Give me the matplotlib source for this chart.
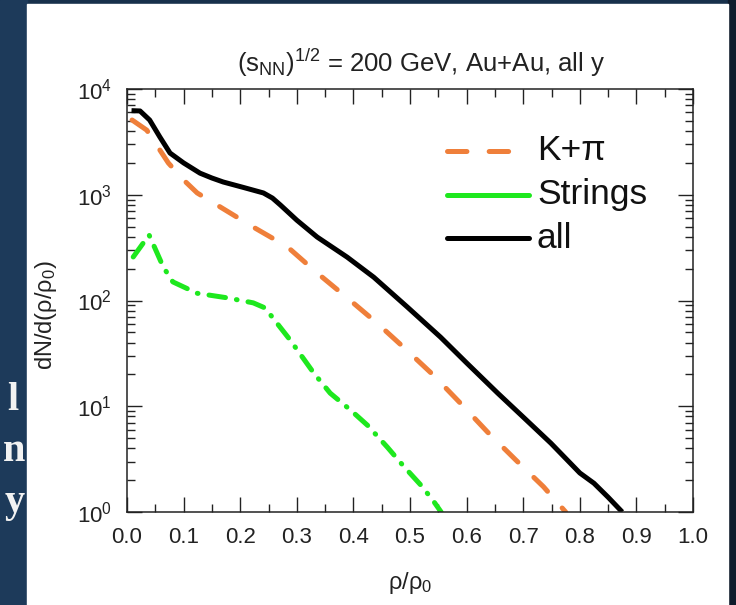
import numpy as np
import matplotlib
matplotlib.use("Agg")
import matplotlib.pyplot as plt
from matplotlib.patches import Rectangle
from matplotlib.ticker import LogLocator, MultipleLocator, NullFormatter

plt.rcParams['font.family'] = ['Liberation Sans', 'DejaVu Sans']
plt.rcParams['mathtext.fontset'] = 'custom'
plt.rcParams['mathtext.rm'] = 'Liberation Sans'
plt.rcParams['mathtext.it'] = 'Liberation Sans:italic'
plt.rcParams['mathtext.default'] = 'regular'
plt.rcParams['lines.scale_dashes'] = False

# values
x_all = [0.008, 0.023, 0.04, 0.058, 0.076, 0.10, 0.129, 0.15, 0.17, 0.205, 0.241, 0.257, 0.271,
         0.30, 0.336, 0.389, 0.436, 0.495, 0.554, 0.60, 0.655, 0.70, 0.749, 0.80,
         0.825, 0.85, 0.875]
y_all = [6240, 6200, 5090, 3520, 2480, 2000, 1600, 1440, 1320, 1175, 1040, 930, 800,
         575, 398, 257, 166, 87, 45, 25.7, 13.3, 7.9, 4.47, 2.34,
         1.87, 1.38, 1.0]

x_kpi = [0.009, 0.035, 0.058, 0.073, 0.10, 0.124, 0.165, 0.223, 0.283, 0.336, 0.389,
         0.442, 0.489, 0.54, 0.589, 0.637, 0.687, 0.736, 0.775]
y_kpi = [5090, 4080, 2650, 2000, 1380, 1040, 765, 495, 323, 182, 106,
         61, 36, 20, 10.7, 5.7, 3.1, 1.73, 1.0]

x_str = [0.011, 0.039, 0.064, 0.081, 0.124, 0.177, 0.223, 0.244, 0.265, 0.288, 0.33,
         0.359, 0.395, 0.425, 0.46, 0.489, 0.519, 0.54, 0.555]
y_str = [258, 417, 208, 150, 117, 106, 95, 85, 61, 42.5, 20.6,
         13.3, 9.2, 6.6, 4.1, 2.7, 1.8, 1.3, 1.0]

labels = ['K+\u03c0', 'Strings', 'all']
c_kpi, c_str, c_all = '#ef7f3a', '#1ee81e', 'black'

W, H = 736, 605
fig = plt.figure(figsize=(W / 100, H / 100), dpi=100, facecolor='#17304b')

# backdrop: dark slide with white panel
fig.patches.append(Rectangle((0, 0), 27 / W, 1, transform=fig.transFigure,
                             color='#1d3a5a', zorder=-3))
fig.patches.append(Rectangle((728 / W, 0), 8 / W, 1, transform=fig.transFigure,
                             color='#0f1b2b', zorder=-3))
fig.patches.append(Rectangle((27 / W, 0), 701 / W, 1 - 4 / H, transform=fig.transFigure,
                             color='white', zorder=-2))
for ch, px, py in [('l', 19, 410), ('n', 25, 461), ('y', 25, 512)]:
    fig.text(px / W, 1 - py / H, ch, ha='right', va='baseline', color='#f2f2f2',
             family='Liberation Serif', fontsize=29, fontweight='bold')

ax = fig.add_axes([127 / W, 1 - 512 / H, 566 / W, 423 / H])
ax.set_facecolor('white')

lw = 3.6
ax.plot(x_kpi, y_kpi, color=c_kpi, lw=lw, dashes=(14, 16), dash_capstyle='round')
ax.plot(x_str, y_str, color=c_str, lw=lw, dashes=(12, 8, 0.5, 8), dash_capstyle='round')
ax.plot(x_all, y_all, color=c_all, lw=lw, solid_capstyle='butt', solid_joinstyle='round')

ax.set_yscale('log')
ax.set_xlim(0, 1.0)
ax.set_ylim(1, 1e4)
ax.xaxis.set_major_locator(MultipleLocator(0.1))
ax.xaxis.set_minor_locator(MultipleLocator(0.05))
ax.yaxis.set_major_locator(LogLocator(base=10, numticks=10))
ax.yaxis.set_minor_locator(LogLocator(base=10, subs=np.arange(2, 10), numticks=10))
ax.yaxis.set_minor_formatter(NullFormatter())
ax.set_xticklabels([f'{v:.1f}' for v in ax.get_xticks()])
ax.tick_params(which='both', direction='in', top=True, right=True, width=1.0,
               labelsize=16, colors='#222222')
ax.tick_params(which='major', length=11, pad=11)
ax.tick_params(which='minor', length=5.5)
for s in ax.spines.values():
    s.set_linewidth(1.1)
    s.set_color('#222222')

fig.text(410 / W, 1 - 583 / H, '\u03c1/\u03c1$_0$', ha='center', va='center',
         fontsize=17, color='#222222')
fig.text(46 / W, 1 - 315 / H, 'dN/d(\u03c1/\u03c1$_0$)', ha='center', va='center',
         rotation=90, fontsize=17, color='#222222')
fig.text(237 / W, 1 - 72 / H, r'$(s_{NN})^{1/2}$ = 200 GeV, Au+Au, all y',
         ha='left', va='baseline', fontsize=18.5, color='#222222')

# legend drawn by hand to match the keys
key_styles = [dict(color=c_kpi, dashes=(14, 16), dash_capstyle='round'),
              dict(color=c_str, solid_capstyle='round'),
              dict(color=c_all, solid_capstyle='round')]
rows = [151, 195, 238]
for lab, st, py in zip(labels, key_styles, rows):
    yy = 1 - (py - 89) / 423
    ax.plot([(447 - 127) / 566, (529 - 127) / 566], [yy, yy], transform=ax.transAxes,
            lw=lw, clip_on=False, **st)
    ax.text((537 - 127) / 566, yy, lab, transform=ax.transAxes, ha='left', va='center',
            fontsize=25.5, color='#111111')

fig.savefig('out.png', dpi=100, facecolor=fig.get_facecolor())
